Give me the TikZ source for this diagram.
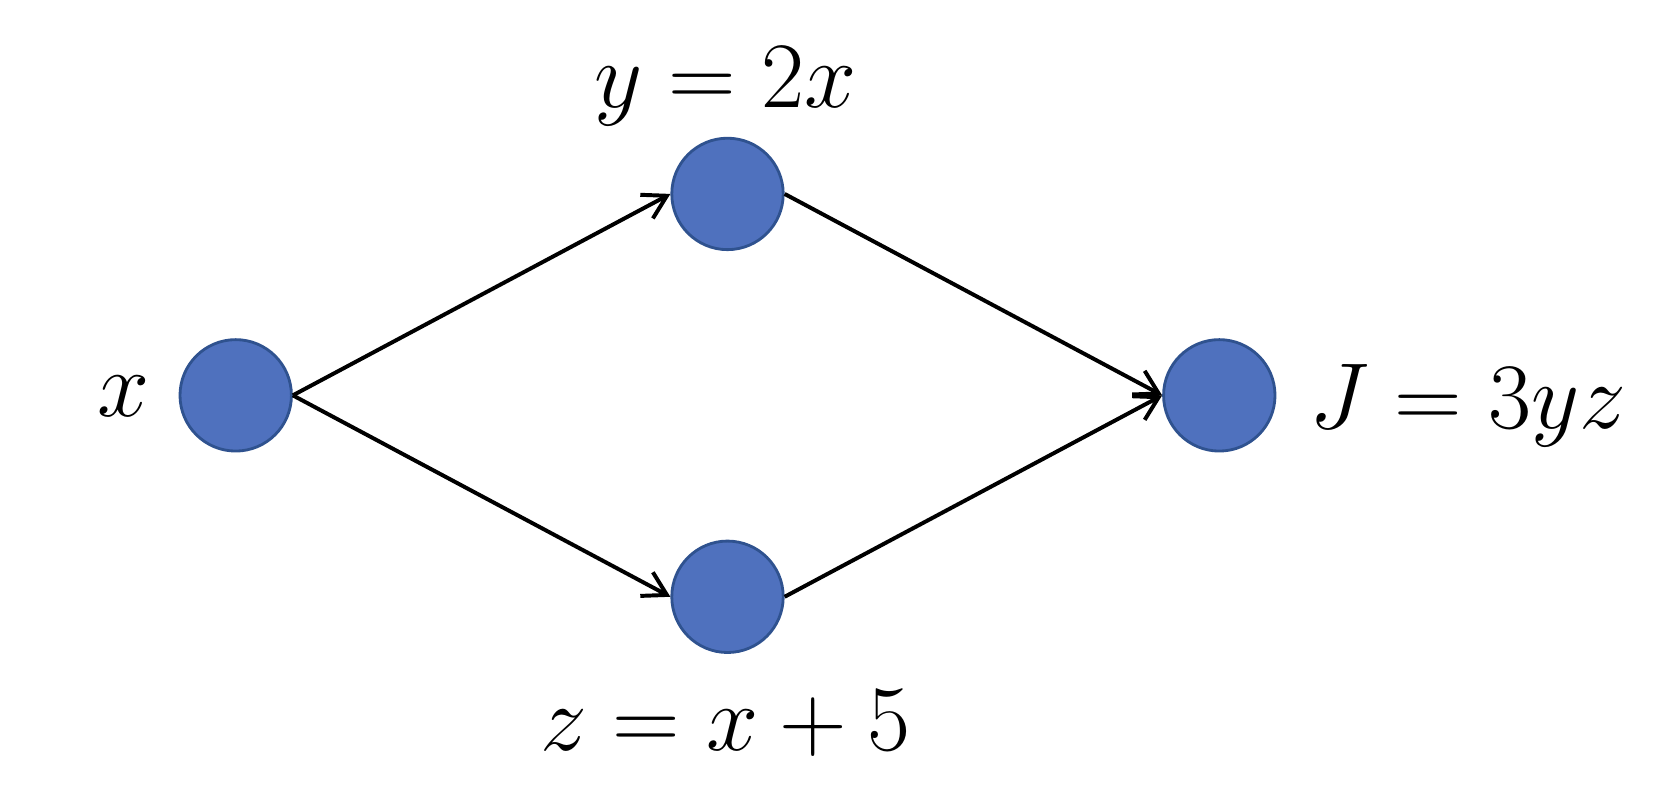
\documentclass[tikz,border=0pt]{standalone}
\usepackage{amsmath,amssymb}
\usepackage{xcolor}
\usepackage{tikz}
\usetikzlibrary{calc}
\usetikzlibrary{arrows.meta}

\definecolor{nodeblue}{HTML}{4F71BE}
\definecolor{nodeedge}{HTML}{2F528F}

\begin{document}
\begin{tikzpicture}[
    var/.style={circle,fill=nodeblue,draw=nodeedge,line width=1.5pt,minimum size=2.08cm,inner sep=0pt},
    lbl/.style={scale=2.0,font=\Huge},
    edge/.style={line width=2.1pt,-{Straight Barb[length=4.3mm,width=5mm,line width=2.1pt]}}
]
\useasboundingbox (0,0) rectangle (31.36,14.896);

% Variables
\node[var] (x) at (4.4,7.516) {};
\node[var] (y) at (13.58,11.276) {};
\node[var] (z) at (13.58,3.756) {};
\node[var] (J) at (22.76,7.516) {};

% Formulas
\node[lbl] (xl) at (2.3,7.496) {$x$};
\node[lbl,anchor=base] (yl) at (13.54,12.896) {$y = 2x$};
\node[lbl,anchor=base] (zl) at (13.54,0.896) {$z = x + 5$};
\node[lbl,anchor=base] (Jl) at (27.4,6.896) {$J = 3yz$};

% Dependencies
\foreach \a/\b in {x/y, x/z, y/J, z/J} {
    \draw[edge] (\a.east) -- (\b.west);
}
\end{tikzpicture}
\end{document}
